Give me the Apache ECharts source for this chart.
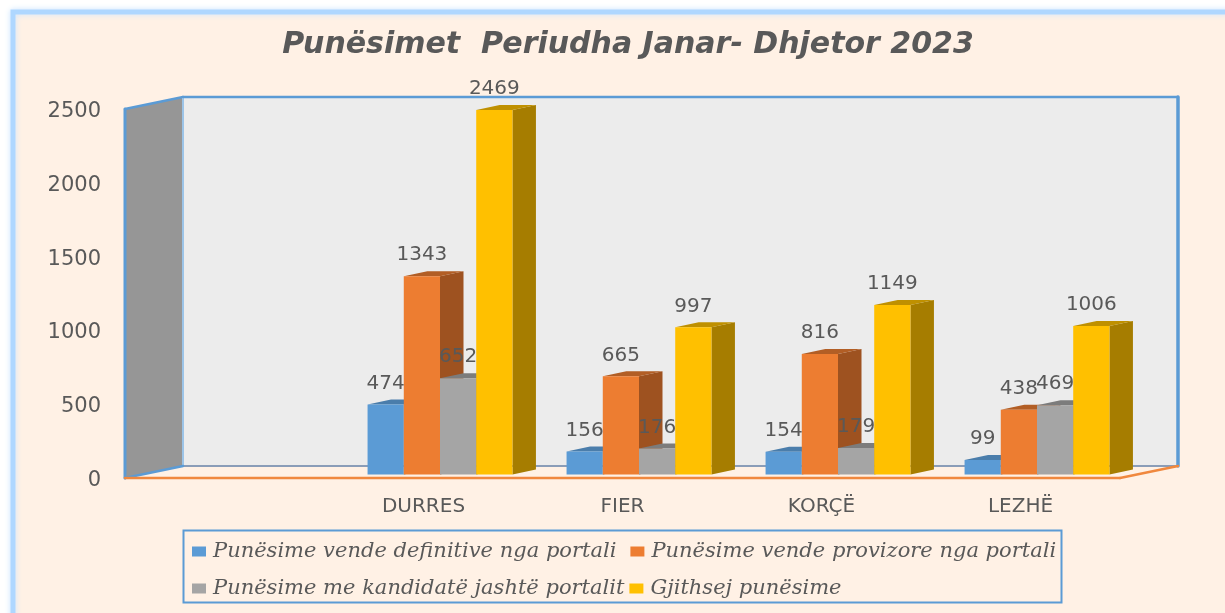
<!DOCTYPE html>
<html><head><meta charset="utf-8">
<style>html,body{margin:0;padding:0;background:#fff}#c{width:1225px;height:613px}</style>
<script src="https://cdn.jsdelivr.net/npm/echarts@6/dist/echarts.min.js"></script>
</head><body><div id="c"></div>
<script>
const categories = ['', 'DURRES', 'FIER', 'KORÇË', 'LEZHË'];
const definitive = [null, 474, 156, 154, 99];
const provisional = [null, 1343, 665, 816, 438];
const outsidePortal = [null, 652, 176, 179, 469];
const totalPlacements = [null, 2469, 997, 1149, 1006];
const seriesNames = ['Punësime vende definitive nga portali', 'Punësime vende provizore nga portali', 'Punësime me kandidatë jashtë portalit', 'Gjithsej punësime'];
const faceColors = ['#5B9BD5', '#ED7D31', '#A5A5A5', '#FFC000'];
const sideColors = ['#44739F', '#9E5220', '#6E6E6E', '#A67D00'];
const topColors = ['#4A7DAB', '#B25E25', '#7C7C7C', '#BF9000'];
const allValues = [definitive, provisional, outsidePortal, totalPlacements];

const WALL = {dx: 58, dy: -12};
const BAR_SHIFT = {dx: 16.5, dy: -3.5};
const BAR_DEPTH = {dx: 23.5, dy: -5};
const BAR_FRACTION = 0.182;
const textGray = '#595959';

function poly(points, fill, z2) {
  return {type: 'polygon', shape: {points}, style: {fill}, z2: z2 || 0, silent: true};
}
function line(x1, y1, x2, y2, stroke, w, z2) {
  return {type: 'line', shape: {x1, y1, x2, y2}, style: {stroke, lineWidth: w, lineCap: 'round'}, z2: z2 || 1, silent: true};
}
function renderFrame(params) {
  const g = params.coordSys, l = g.x, r = g.x + g.width, t = g.y, b = g.y + g.height;
  const d = WALL, blue = '#5B9BD5', orange = '#F0883E';
  return {type: 'group', children: [
    poly([[l, t], [l + d.dx, t + d.dy], [l + d.dx, b + d.dy], [l, b]], '#969696'),
    poly([[l + d.dx, t + d.dy], [r + d.dx, t + d.dy], [r + d.dx, b + d.dy], [l + d.dx, b + d.dy]], '#ECECEC'),
    line(l, t, l, b, blue, 3),
    line(l, t, l + d.dx, t + d.dy, blue, 2.5),
    line(l + d.dx, t + d.dy, l + d.dx, b + d.dy, '#9CC4E8', 2),
    line(l + d.dx, t + d.dy, r + d.dx, t + d.dy, blue, 2.5),
    line(r + d.dx, t + d.dy, r + d.dx, b + d.dy, blue, 3.5),
    line(l + d.dx, b + d.dy, r + d.dx, b + d.dy, '#8A9DB8', 2),
    line(l, b, l + d.dx, b + d.dy, blue, 2.5),
    line(l, b, r, b, orange, 2.5),
    line(r, b, r + d.dx, b + d.dy, orange, 2.5)
  ]};
}
function barRenderer(si) {
  return function (params, api) {
    const cat = api.value(0), val = api.value(1);
    const base = api.coord([cat, 0]), topPt = api.coord([cat, val]);
    const w = api.size([1, 0])[0] * BAR_FRACTION;
    const x0 = base[0] - 2 * w + si * w + BAR_SHIFT.dx, x1 = x0 + w;
    const yb = base[1] + BAR_SHIFT.dy, yt = topPt[1] + BAR_SHIFT.dy;
    const dx = BAR_DEPTH.dx, dy = BAR_DEPTH.dy;
    return {type: 'group', children: [
      poly([[x1, yt], [x1 + dx, yt + dy], [x1 + dx, yb + dy], [x1, yb]], sideColors[si]),
      poly([[x0, yt], [x0 + dx, yt + dy], [x1 + dx, yt + dy], [x1, yt]], topColors[si]),
      poly([[x0, yt], [x1, yt], [x1, yb], [x0, yb]], faceColors[si]),
      {type: 'text', z2: 100, silent: true, style: {
        text: String(val), x: (x0 + x1) / 2, y: yt - 21, align: 'center', verticalAlign: 'middle',
        fill: textGray, font: '20px "DejaVu Sans"'}}
    ]};
  };
}
const barSeries = allValues.map((vals, si) => ({
  type: 'custom', name: seriesNames[si], coordinateSystem: 'cartesian2d',
  itemStyle: {color: faceColors[si]}, renderItem: barRenderer(si), encode: {x: 0, y: 1}, clip: false,
  data: vals.map((v, i) => [i, v]).filter(d => d[1] !== null)
}));
const legendCommon = {left: 192, padding: 0, icon: 'rect', itemWidth: 14, itemHeight: 10,
  textStyle: {color: textGray, fontFamily: 'DejaVu Serif', fontStyle: 'italic', fontSize: 21, padding: [0, 0, 0, 2]}};

const chart = echarts.init(document.getElementById('c'), null, {renderer: 'canvas'});
chart.setOption({
  animation: false,
  backgroundColor: '#fff',
  title: {text: 'Punësimet  Periudha Janar- Dhjetor 2023', left: 623, textAlign: 'center', top: 25,
    textStyle: {color: textGray, fontFamily: 'DejaVu Sans', fontStyle: 'italic', fontWeight: 'bold', fontSize: 30}},
  graphic: {elements: [
    {type: 'rect', z: -10, silent: true, shape: {x: 13, y: 12, width: 1300, height: 700},
      style: {fill: '#FFF1E5', stroke: '#AFD7FF', lineWidth: 5, shadowBlur: 6, shadowColor: '#CFE6FF'}},
    {type: 'rect', z: 1, silent: true, shape: {x: 183.5, y: 530.5, width: 878, height: 72},
      style: {fill: 'none', stroke: '#5B9BD5', lineWidth: 2}}
  ]},
  legend: [
    Object.assign({}, legendCommon, {top: 541, itemGap: 14, data: seriesNames.slice(0, 2)}),
    Object.assign({}, legendCommon, {top: 578, itemGap: 5, data: seriesNames.slice(2, 4)})
  ],
  grid: {left: 125, right: 105, top: 109, bottom: 135},
  xAxis: {type: 'category', data: categories, axisLine: {show: false}, axisTick: {show: false}, splitLine: {show: false},
    axisLabel: {interval: 0, margin: 19, color: textGray, fontFamily: 'DejaVu Sans', fontSize: 20}},
  yAxis: {type: 'value', min: 0, max: 2500, interval: 500, axisLine: {show: false}, axisTick: {show: false}, splitLine: {show: false},
    axisLabel: {margin: 24, color: textGray, fontFamily: 'DejaVu Sans', fontSize: 21, verticalAlign: 'top', lineHeight: 5, formatter: v => String(v)}},
  series: [{type: 'custom', coordinateSystem: 'cartesian2d', silent: true, z: 1, renderItem: renderFrame, data: [[0, 0]], clip: false}].concat(barSeries)
});
</script></body></html>
